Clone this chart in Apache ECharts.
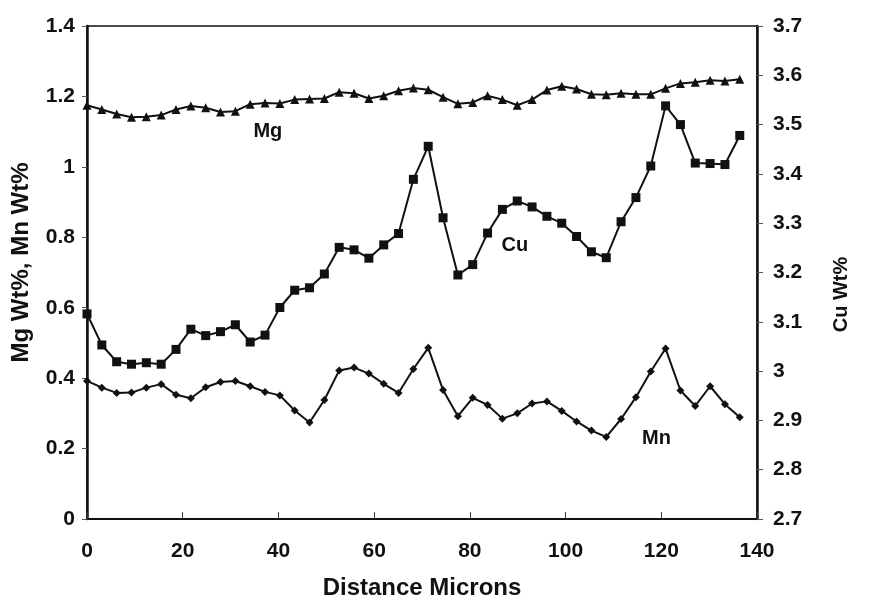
<!DOCTYPE html>
<html>
<head>
<meta charset="utf-8">
<script src="https://cdn.jsdelivr.net/npm/echarts@6/dist/echarts.min.js"></script>
<style>
  html, body { margin: 0; padding: 0; background: #fff; }
  #main { width: 869px; height: 601px; }
</style>
</head>
<body>
<div id="main"></div>
<script>
// distance along the line scan (microns)
var distance = [0, 3.1, 6.2, 9.3, 12.4, 15.5, 18.6, 21.7, 24.8, 27.9, 31, 34.1, 37.2, 40.3, 43.4,
  46.5, 49.6, 52.7, 55.8, 58.9, 62, 65.1, 68.2, 71.3, 74.4, 77.5, 80.6, 83.7, 86.8, 89.9,
  93, 96.1, 99.2, 102.3, 105.4, 108.5, 111.6, 114.7, 117.8, 120.9, 124, 127.1, 130.2, 133.3, 136.4]

var mg = [1.175, 1.163, 1.150, 1.141, 1.142, 1.147, 1.163, 1.173, 1.168, 1.156, 1.158, 1.178, 1.181, 1.180, 1.191,
  1.193, 1.194, 1.212, 1.209, 1.194, 1.202, 1.216, 1.224, 1.219, 1.198, 1.179, 1.183, 1.202, 1.191, 1.175,
  1.191, 1.218, 1.229, 1.221, 1.206, 1.205, 1.209, 1.206, 1.206, 1.223, 1.237, 1.240, 1.246, 1.244, 1.249]

var cu = [3.116, 3.053, 3.019, 3.014, 3.017, 3.014, 3.044, 3.085, 3.072, 3.080, 3.094, 3.059, 3.073, 3.129, 3.164,
  3.169, 3.197, 3.251, 3.246, 3.229, 3.256, 3.279, 3.389, 3.456, 3.311, 3.195, 3.216, 3.280, 3.328, 3.345,
  3.333, 3.314, 3.300, 3.273, 3.242, 3.230, 3.303, 3.352, 3.416, 3.538, 3.500, 3.422, 3.421, 3.419, 3.478]

var mn = [0.392, 0.373, 0.358, 0.359, 0.373, 0.383, 0.353, 0.343, 0.374, 0.389, 0.392, 0.377, 0.361, 0.351, 0.308,
  0.274, 0.338, 0.422, 0.430, 0.413, 0.384, 0.358, 0.426, 0.486, 0.366, 0.292, 0.344, 0.324, 0.285, 0.300,
  0.328, 0.334, 0.307, 0.277, 0.251, 0.233, 0.284, 0.346, 0.419, 0.484, 0.365, 0.321, 0.377, 0.326, 0.289]

// axis ranges
var xRange = [0, 140, 20]
var leftRange = [0, 1.4, 0.2]
var rightRange = [2.7, 3.7, 0.1]

// where the series names are written on the plot: [distance, value]
var mgLabel = [37.8, 1.10]
var cuLabel = [89.4, 3.255]
var mnLabel = [119, 0.228]

function pairs (xs, ys) {
  return xs.map(function (x, i) { return [x, ys[i]] })
}

var font = 'Liberation Sans, Arial, sans-serif'
var tickText = { color: '#111', fontFamily: font, fontWeight: 'bold', fontSize: 21 }

function nameMark (coord, text) {
  return {
    symbol: 'circle',
    symbolSize: 2,
    silent: true,
    itemStyle: { color: 'rgba(0,0,0,0)' },
    data: [{ coord: coord, value: text }],
    label: {
      show: true,
      position: 'inside',
      formatter: text,
      color: '#111',
      fontFamily: font,
      fontWeight: 'bold',
      fontSize: 20
    }
  }
}

var myChart = echarts.init(document.getElementById('main'))
var option = {
  backgroundColor: '#fff',
  animation: false,
  grid: {
    left: 87,
    right: 112,
    top: 26,
    bottom: 82,
    outerBoundsMode: 'none',
    show: true,
    borderColor: '#111',
    borderWidth: 1.5,
    backgroundColor: 'transparent'
  },
  xAxis: {
    type: 'value',
    min: xRange[0],
    max: xRange[1],
    interval: xRange[2],
    name: 'Distance Microns',
    nameLocation: 'middle',
    nameGap: 57,
    nameTextStyle: { color: '#111', fontFamily: font, fontWeight: 'bold', fontSize: 24 },
    axisLine: { lineStyle: { color: '#111', width: 2 } },
    axisTick: { inside: true, length: 7, lineStyle: { color: '#333' } },
    axisLabel: Object.assign({ margin: 22 }, tickText),
    splitLine: { show: false }
  },
  yAxis: [
    {
      type: 'value',
      position: 'left',
      min: leftRange[0],
      max: leftRange[1],
      interval: leftRange[2],
      name: 'Mg Wt%, Mn Wt%',
      nameLocation: 'middle',
      nameRotate: 90,
      nameGap: 54,
      nameTextStyle: { color: '#111', fontFamily: font, fontWeight: 'bold', fontSize: 24, padding: [0, 0, 0, 20] },
      axisLine: { show: true, lineStyle: { color: '#111', width: 2.5 } },
      axisTick: { show: true, length: 5, lineStyle: { color: '#555' } },
      axisLabel: Object.assign({ margin: 12 }, tickText),
      splitLine: { show: false }
    },
    {
      type: 'value',
      position: 'right',
      min: rightRange[0],
      max: rightRange[1],
      interval: rightRange[2],
      name: 'Cu Wt%',
      nameLocation: 'middle',
      nameRotate: 90,
      nameGap: 74,
      nameTextStyle: { color: '#111', fontFamily: font, fontWeight: 'bold', fontSize: 20, padding: [0, 44, 0, 0] },
      axisLine: { show: true, lineStyle: { color: '#111', width: 2.5 } },
      axisTick: { show: true, length: 6, lineStyle: { color: '#555' } },
      axisLabel: Object.assign({
        margin: 16,
        formatter: function (v) { return String(Math.round(v * 10) / 10) }
      }, tickText),
      splitLine: { show: false }
    }
  ],
  series: [
    {
      name: 'Mg',
      type: 'line',
      yAxisIndex: 0,
      data: pairs(distance, mg),
      symbol: 'triangle',
      symbolSize: 9,
      itemStyle: { color: '#111' },
      lineStyle: { color: '#111', width: 2 },
      markPoint: nameMark(mgLabel, 'Mg')
    },
    {
      name: 'Cu',
      type: 'line',
      yAxisIndex: 1,
      data: pairs(distance, cu),
      symbol: 'rect',
      symbolSize: 9,
      itemStyle: { color: '#111' },
      lineStyle: { color: '#111', width: 2 },
      markPoint: nameMark(cuLabel, 'Cu')
    },
    {
      name: 'Mn',
      type: 'line',
      yAxisIndex: 0,
      data: pairs(distance, mn),
      symbol: 'diamond',
      symbolSize: 8,
      itemStyle: { color: '#111' },
      lineStyle: { color: '#111', width: 2 },
      markPoint: nameMark(mnLabel, 'Mn')
    }
  ]
}
myChart.setOption(option)
</script>
</body>
</html>
